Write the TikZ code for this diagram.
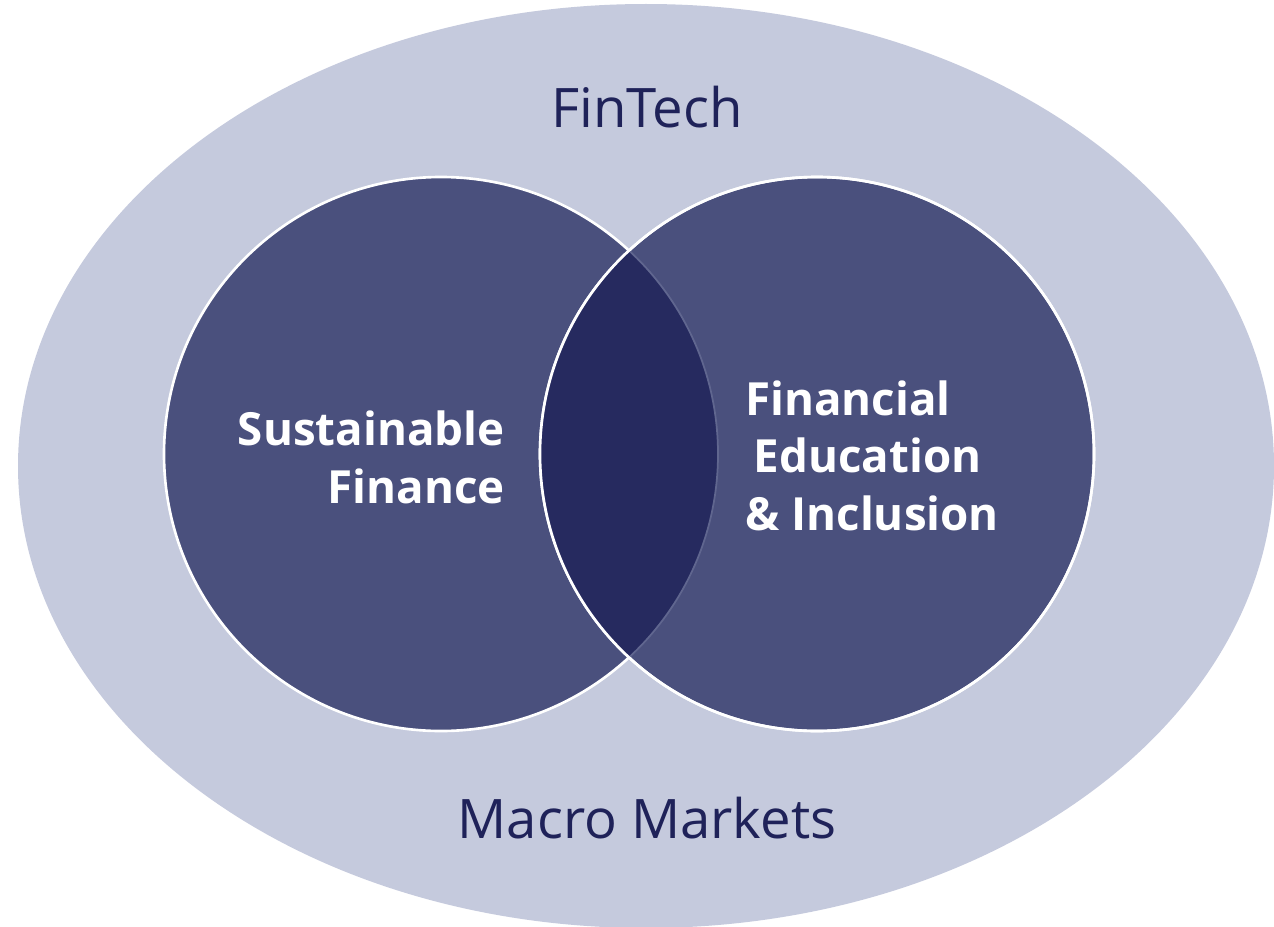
\documentclass[tikz,border=0pt]{standalone}
\usepackage{fontspec}
\setmainfont{Open Sans}
\usepackage{xcolor}
\usepackage{tikz}
\definecolor{outerfill}{HTML}{C5CADD}
\definecolor{circfill}{HTML}{4A507D}
\definecolor{overlapfill}{HTML}{262A5F}
\definecolor{innerline}{HTML}{60668F}
\definecolor{labeltext}{HTML}{1F2259}
\tikzset{
	outerlabel/.style={text=labeltext,font=\fontsize{31}{36}\selectfont,inner sep=0pt},
	innerlabel/.style={text=white,font=\fontsize{26}{32.5}\selectfont\bfseries,inner sep=0pt},
	venn/.style={fill=circfill,draw=white,line width=1.5pt}
}

\begin{document}
\begin{tikzpicture}[x=0.02cm,y=-0.02cm]
	\useasboundingbox (0,0) rectangle (1274,926);
	\clip (0,0) rectangle (1274,926);
	\fill[white] (0,0) rectangle (1274,926);
	% outer field
	\fill[outerfill] (646,466) ellipse (628 and 462);
	\node[outerlabel,anchor=base] (fintech) at (647,128) {FinTech};
	\node[outerlabel,anchor=base] (macro) at (647,838) {Macro Markets};
	% the two circles
	\draw[venn] (441,454) circle (277);
	\draw[venn] (817,454) circle (277);
	\begin{scope}
		\clip (441,454) circle (277);
		\fill[overlapfill] (817,454) circle (277);
	\end{scope}
	\begin{scope}
		\clip (817,454) circle (277);
		\draw[innerline,line width=1pt] (441,454) circle (277);
	\end{scope}
	\draw[white,line width=1.5pt] (817,454) circle (277);
	% labels
	\node[innerlabel,align=right,anchor=base east] (sustain) at (505,503) {Sustainable\\Finance};
	\node[innerlabel,align=left,anchor=base west] (educ) at (745,530) {Financial\\\hspace{12\pgflinewidth}Education\\\& Inclusion};
\end{tikzpicture}
\end{document}
